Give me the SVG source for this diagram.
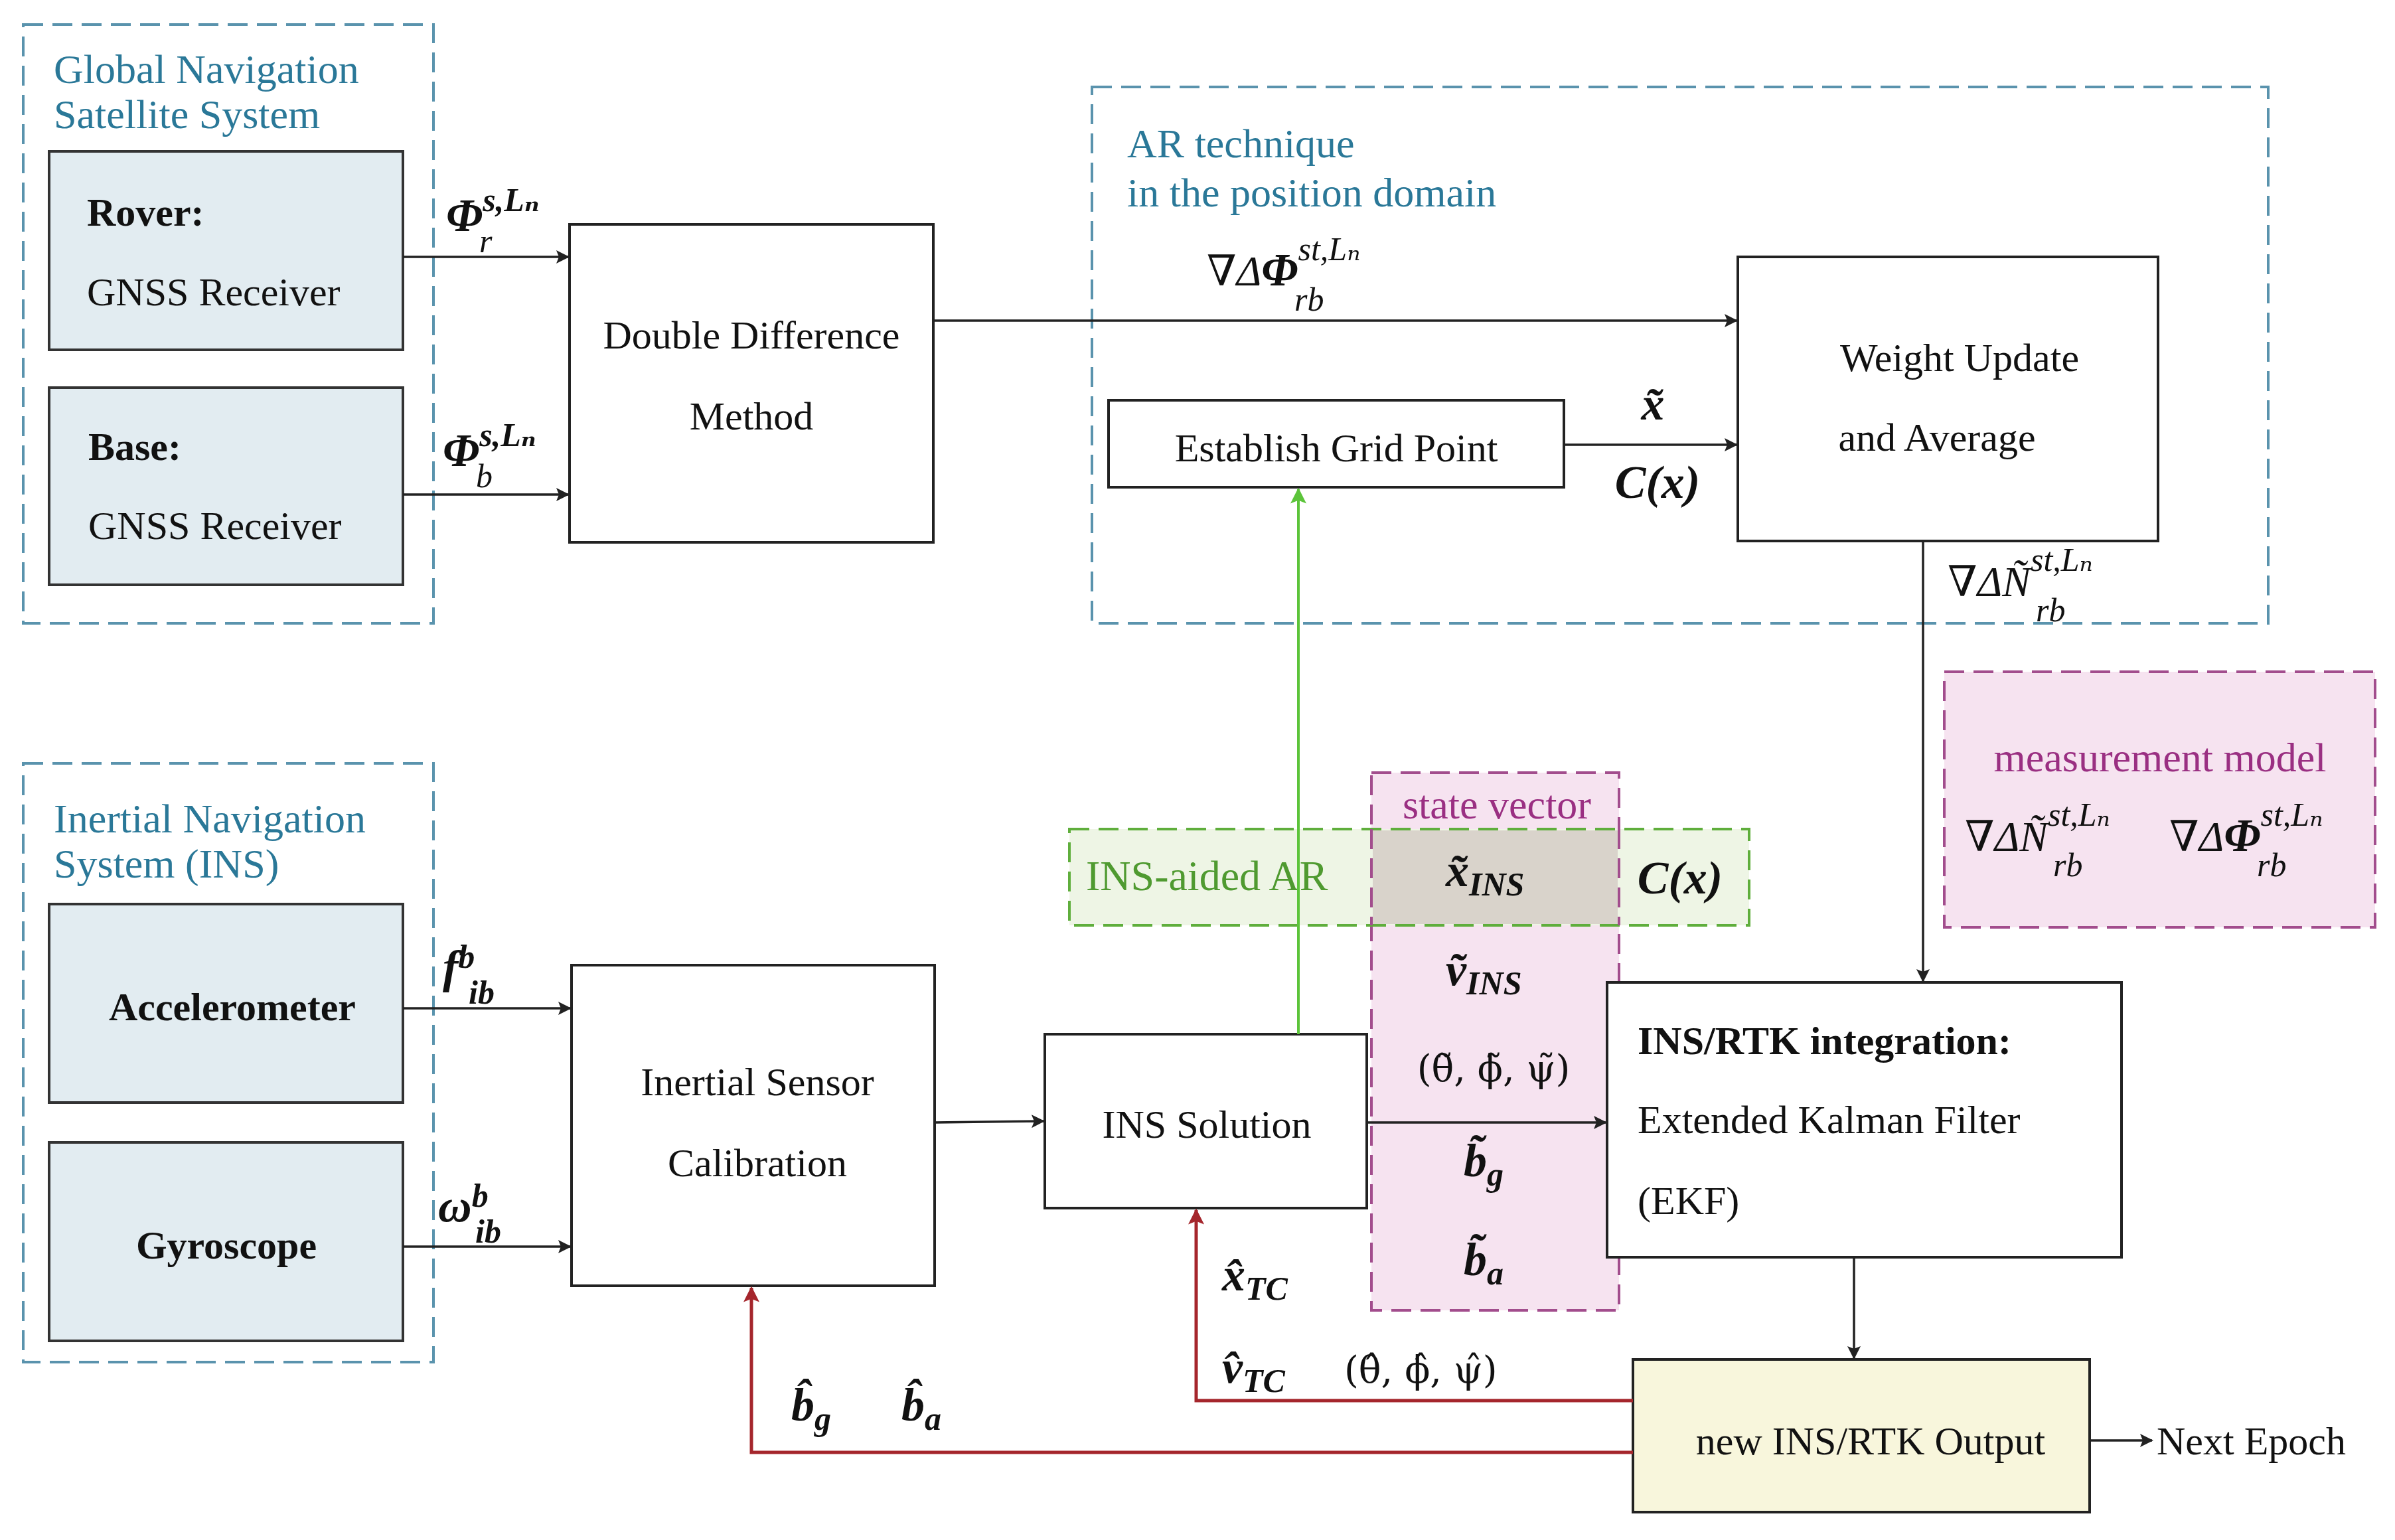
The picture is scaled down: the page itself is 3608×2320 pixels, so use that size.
<svg xmlns="http://www.w3.org/2000/svg" width="3608" height="2320" viewBox="0 0 3608 2320">
<style>
text{font-family:"Liberation Serif","DejaVu Serif",serif;font-size:60px;fill:#111}
.t{fill:#2a7898;font-size:62px}
.b{font-weight:bold}
.m{font-weight:bold;font-style:italic;font-size:70px}
.mn{font-style:italic;font-size:64px}
.ang{font-family:"DejaVu Serif",serif;font-size:56px}
.s{font-size:50px;font-style:italic}
.mid{text-anchor:middle}
.box{fill:#fff;stroke:#222;stroke-width:4}
.gbox{fill:#e2ecf1;stroke:#333;stroke-width:4}
.dash{fill:none;stroke:#5a93ad;stroke-width:4;stroke-dasharray:30 14}
.ln{fill:none;stroke:#222;stroke-width:3.5}
.red{fill:none;stroke:#a5262c;stroke-width:5}
</style>
<defs>
<marker id="ak" viewBox="0 0 10 10" refX="9" refY="5" markerWidth="20" markerHeight="20" orient="auto" markerUnits="userSpaceOnUse"><path d="M0,0L10,5L0,10L2,5z" fill="#222"/></marker>
<marker id="ar" viewBox="0 0 10 10" refX="9" refY="5" markerWidth="24" markerHeight="24" orient="auto" markerUnits="userSpaceOnUse"><path d="M0,0L10,5L0,10L2,5z" fill="#a5262c"/></marker>
<marker id="ag" viewBox="0 0 10 10" refX="9" refY="5" markerWidth="24" markerHeight="24" orient="auto" markerUnits="userSpaceOnUse"><path d="M0,0L10,5L0,10L2,5z" fill="#5cc43a"/></marker>
</defs>
<rect width="3608" height="2320" fill="#fff"/>

<g id="gnss">
<rect x="35" y="37" width="618" height="902" class="dash"/>
<text x="81" y="125" class="t">Global Navigation</text>
<text x="81" y="193" class="t">Satellite System</text>
</g>
<g id="rover"><rect x="74" y="228" width="533" height="299" class="gbox"/>
<text x="131" y="340" class="b">Rover:</text><text x="131" y="460">GNSS Receiver</text></g>
<g id="base"><rect x="74" y="584" width="533" height="297" class="gbox"/>
<text x="133" y="693" class="b">Base:</text><text x="133" y="812">GNSS Receiver</text></g>
<g id="dd"><rect x="858" y="338" width="548" height="479" class="box"/>
<text x="1132" y="525" class="mid">Double Difference</text><text x="1132" y="647" class="mid">Method</text></g>

<g id="ar">
<rect x="1645" y="131" width="1772" height="808" class="dash"/>
<text x="1698" y="237" class="t">AR technique</text>
<text x="1698" y="311" class="t">in the position domain</text>
</g>
<g id="weight"><rect x="2618" y="387" width="633" height="428" class="box"/>
<text x="2952" y="559" class="mid">Weight Update</text><text x="2918" y="679" class="mid">and Average</text></g>
<g id="grid"><rect x="1670" y="603" width="686" height="131" class="box"/>
<text x="2013" y="695" class="mid">Establish Grid Point</text></g>

<g id="ins">
<rect x="35" y="1150" width="618" height="902" class="dash"/>
<text x="81" y="1254" class="t">Inertial Navigation</text>
<text x="81" y="1322" class="t">System (INS)</text>
</g>
<g id="acc"><rect x="74" y="1362" width="533" height="299" class="gbox"/>
<text x="350" y="1537" class="b mid">Accelerometer</text></g>
<g id="gyro"><rect x="74" y="1721" width="533" height="299" class="gbox"/>
<text x="341" y="1896" class="b mid">Gyroscope</text></g>
<g id="calib"><rect x="861" y="1454" width="547" height="483" class="box"/>
<text x="1141" y="1650" class="mid">Inertial Sensor</text><text x="1141" y="1772" class="mid">Calibration</text></g>
<g id="inssol"><rect x="1574" y="1558" width="485" height="262" class="box"/>
<text x="1818" y="1714" class="mid">INS Solution</text></g>

<g id="state">
<rect x="2066" y="1164" width="373" height="810" fill="#f6e3f0" stroke="#a24d8d" stroke-width="4" stroke-dasharray="30 14"/>
</g>
<g id="aided">
<rect x="1611" y="1249" width="1024" height="145" fill="#eef5e5" stroke="#5fae3c" stroke-width="4" stroke-dasharray="30 14"/>
<rect x="2068" y="1251" width="369" height="141" fill="#d9d3cb"/>
<line x1="2066" y1="1249" x2="2066" y2="1394" stroke="#a24d8d" stroke-width="4" stroke-dasharray="30 14"/>
<line x1="2439" y1="1249" x2="2439" y2="1394" stroke="#a24d8d" stroke-width="4" stroke-dasharray="30 14"/>
<text x="1636" y="1341" style="fill:#4f9a30;font-size:64px">INS-aided AR</text>
<text x="2531" y="1346" class="m mid">C(x)</text>
</g>
<text x="2255" y="1233" class="mid" style="fill:#9a2f82;font-size:62px">state vector</text>
<text x="2178" y="1335" class="m">x̃<tspan class="s" font-weight="bold" dy="14">INS</tspan></text>
<text x="2178" y="1484" class="m">ṽ<tspan class="s" font-weight="bold" dy="14">INS</tspan></text>
<text x="2250" y="1629" class="ang mid">(θ̃, ϕ̃, ψ̃)</text>
<text x="2205" y="1772" class="m">b̃<tspan class="s" dy="14">g</tspan></text>
<text x="2205" y="1921" class="m">b̃<tspan class="s" dy="14">a</tspan></text>

<g id="meas">
<rect x="2929" y="1012" width="649" height="385" fill="#f6e3f0" stroke="#a24d8d" stroke-width="4" stroke-dasharray="30 14"/>
<text x="3254" y="1162" class="mid" style="fill:#9a2f82;font-size:62px">measurement model</text>
<text x="2960" y="1282" class="mn">∇ΔÑ<tspan class="s" dy="-38">st,Lₙ</tspan></text>
<text x="3093" y="1320" class="s">rb</text>
<text x="3268" y="1282" class="mn">∇Δ<tspan class="m">Φ</tspan><tspan class="s" dy="-38">st,Lₙ</tspan></text>
<text x="3400" y="1320" class="s">rb</text>
</g>

<g id="ekf"><rect x="2421" y="1480" width="775" height="414" class="box"/>
<text x="2467" y="1588" class="b">INS/RTK integration:</text>
<text x="2467" y="1707">Extended Kalman Filter</text>
<text x="2467" y="1829">(EKF)</text></g>
<g id="out"><rect x="2460" y="2048" width="688" height="230" fill="#f8f6dc" stroke="#222" stroke-width="4"/>
<text x="2818" y="2191" class="mid">new INS/RTK Output</text></g>
<text x="3249" y="2191">Next Epoch</text>

<g id="connectors">
<line x1="607" y1="387" x2="856" y2="387" class="ln" marker-end="url(#ak)"/>
<line x1="607" y1="745" x2="856" y2="745" class="ln" marker-end="url(#ak)"/>
<line x1="1406" y1="483" x2="2616" y2="483" class="ln" marker-end="url(#ak)"/>
<line x1="2356" y1="670" x2="2616" y2="670" class="ln" marker-end="url(#ak)"/>
<line x1="1956" y1="1558" x2="1956" y2="737" stroke="#5cc43a" stroke-width="4" marker-end="url(#ag)"/>
<line x1="607" y1="1519" x2="859" y2="1519" class="ln" marker-end="url(#ak)"/>
<line x1="607" y1="1878" x2="859" y2="1878" class="ln" marker-end="url(#ak)"/>
<line x1="1408" y1="1691" x2="1572" y2="1689" class="ln" marker-end="url(#ak)"/>
<line x1="2059" y1="1691" x2="2419" y2="1691" class="ln" marker-end="url(#ak)"/>
<line x1="2897" y1="815" x2="2897" y2="1478" class="ln" marker-end="url(#ak)"/>
<line x1="2793" y1="1894" x2="2793" y2="2046" class="ln" marker-end="url(#ak)"/>
<line x1="3148" y1="2170" x2="3242" y2="2170" class="ln" marker-end="url(#ak)"/>
<polyline points="2460,2110 1802,2110 1802,1823" class="red" marker-end="url(#ar)"/>
<polyline points="2460,2188 1132,2188 1132,1940" class="red" marker-end="url(#ar)"/>
</g>

<text x="672" y="348" class="m">Φ<tspan class="s" dy="-30">s,Lₙ</tspan></text>
<text x="722" y="380" class="s">r</text>
<text x="667" y="702" class="m">Φ<tspan class="s" dy="-30">s,Lₙ</tspan></text>
<text x="717" y="734" class="s">b</text>
<text x="667" y="1480" class="m">f<tspan class="s" font-weight="bold" dy="-22">b</tspan></text>
<text x="706" y="1512" class="s b">ib</text>
<text x="660" y="1840" class="m">ω<tspan class="s" font-weight="bold" dy="-22">b</tspan></text>
<text x="716" y="1872" class="s b">ib</text>
<text x="1818" y="430" class="mn">∇Δ<tspan class="m">Φ</tspan><tspan class="s" dy="-38">st,Lₙ</tspan></text>
<text x="1950" y="468" class="s">rb</text>
<text x="2490" y="632" class="m mid">x̃</text>
<text x="2497" y="750" class="m mid">C(x)</text>
<text x="2934" y="898" class="mn">∇ΔÑ<tspan class="s" dy="-38">st,Lₙ</tspan></text>
<text x="3067" y="936" class="s">rb</text>
<text x="1841" y="1944" class="m">x̂<tspan class="s" font-weight="bold" dy="14">TC</tspan></text>
<text x="1841" y="2083" class="m">v̂<tspan class="s" font-weight="bold" dy="14">TC</tspan></text>
<text x="2025" y="2083" class="ang">(θ̂, ϕ̂, ψ̂)</text>
<text x="1192" y="2140" class="m">b̂<tspan class="s" dy="14">g</tspan></text>
<text x="1358" y="2140" class="m">b̂<tspan class="s" dy="14">a</tspan></text>
</svg>
